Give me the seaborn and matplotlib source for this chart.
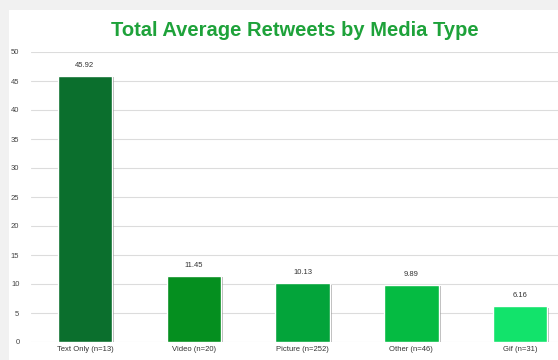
import matplotlib
matplotlib.use("Agg")
import matplotlib.pyplot as plt
import matplotlib.patheffects as pe
from matplotlib.patches import Rectangle
import seaborn as sns
import pandas as pd

categories = ["Text Only (n=13)", "Video (n=20)", "Picture (n=252)", "Other (n=46)", "Gif (n=31)"]
values = [45.92, 11.45, 10.13, 9.89, 6.16]
labels = ["45.92", "11.45", "10.13", "9.89", "6.16"]
colors = ["#0b6f2d", "#058f1f", "#03a43a", "#05bb42", "#12e36b"]

sns.set_theme(style="white")
plt.rcParams['font.family'] = ['Liberation Sans', 'DejaVu Sans']

fig = plt.figure(figsize=(5.58, 3.6), dpi=100)
fig.patch.set_facecolor("#f1f1f1")
fig.add_artist(Rectangle((9 / 558, 0), 1, 1 - 10 / 360, transform=fig.transFigure,
                         facecolor="white", edgecolor="none", zorder=0))

ax = fig.add_axes([30.5 / 558, 1 - 342 / 360, 544 / 558, (342 - 52) / 360])
ax.set_facecolor("none")

df = pd.DataFrame({"cat": categories, "val": values})
sns.barplot(data=df, x="cat", y="val", hue="cat", palette=colors, order=categories,
            width=0.5, legend=False, ax=ax, saturation=1, zorder=3)

for p in ax.patches:
    p.set_path_effects([pe.SimplePatchShadow(offset=(1.5, -1), shadow_rgbFace="#777777", alpha=0.55), pe.Normal()])

for i, (v, t) in enumerate(zip(values, labels)):
    ax.text(i, v + 1.2, t, ha="center", va="bottom", fontsize=5.5, color="#333333")

ax.set_ylim(0, 50)
ax.set_yticks(range(0, 51, 5))
ax.set_xlim(-0.5, 4.5)
ax.yaxis.grid(True, color="#dcdcdc", linewidth=0.8, zorder=0)
ax.set_axisbelow(True)
for s in ax.spines.values():
    s.set_visible(False)
ax.tick_params(axis="y", labelsize=5.5, colors="#444444", pad=8, length=0)
ax.tick_params(axis="x", labelsize=5.5, colors="#333333", pad=3, length=0)
ax.set_xlabel("")
ax.set_ylabel("")

fig.text(295 / 558, 1 - 30 / 360, "Total Average Retweets by Media Type", ha="center", va="center",
         fontsize=14.5, fontweight="bold", color="#1ea23a")

fig.savefig("out.png", dpi=100)
